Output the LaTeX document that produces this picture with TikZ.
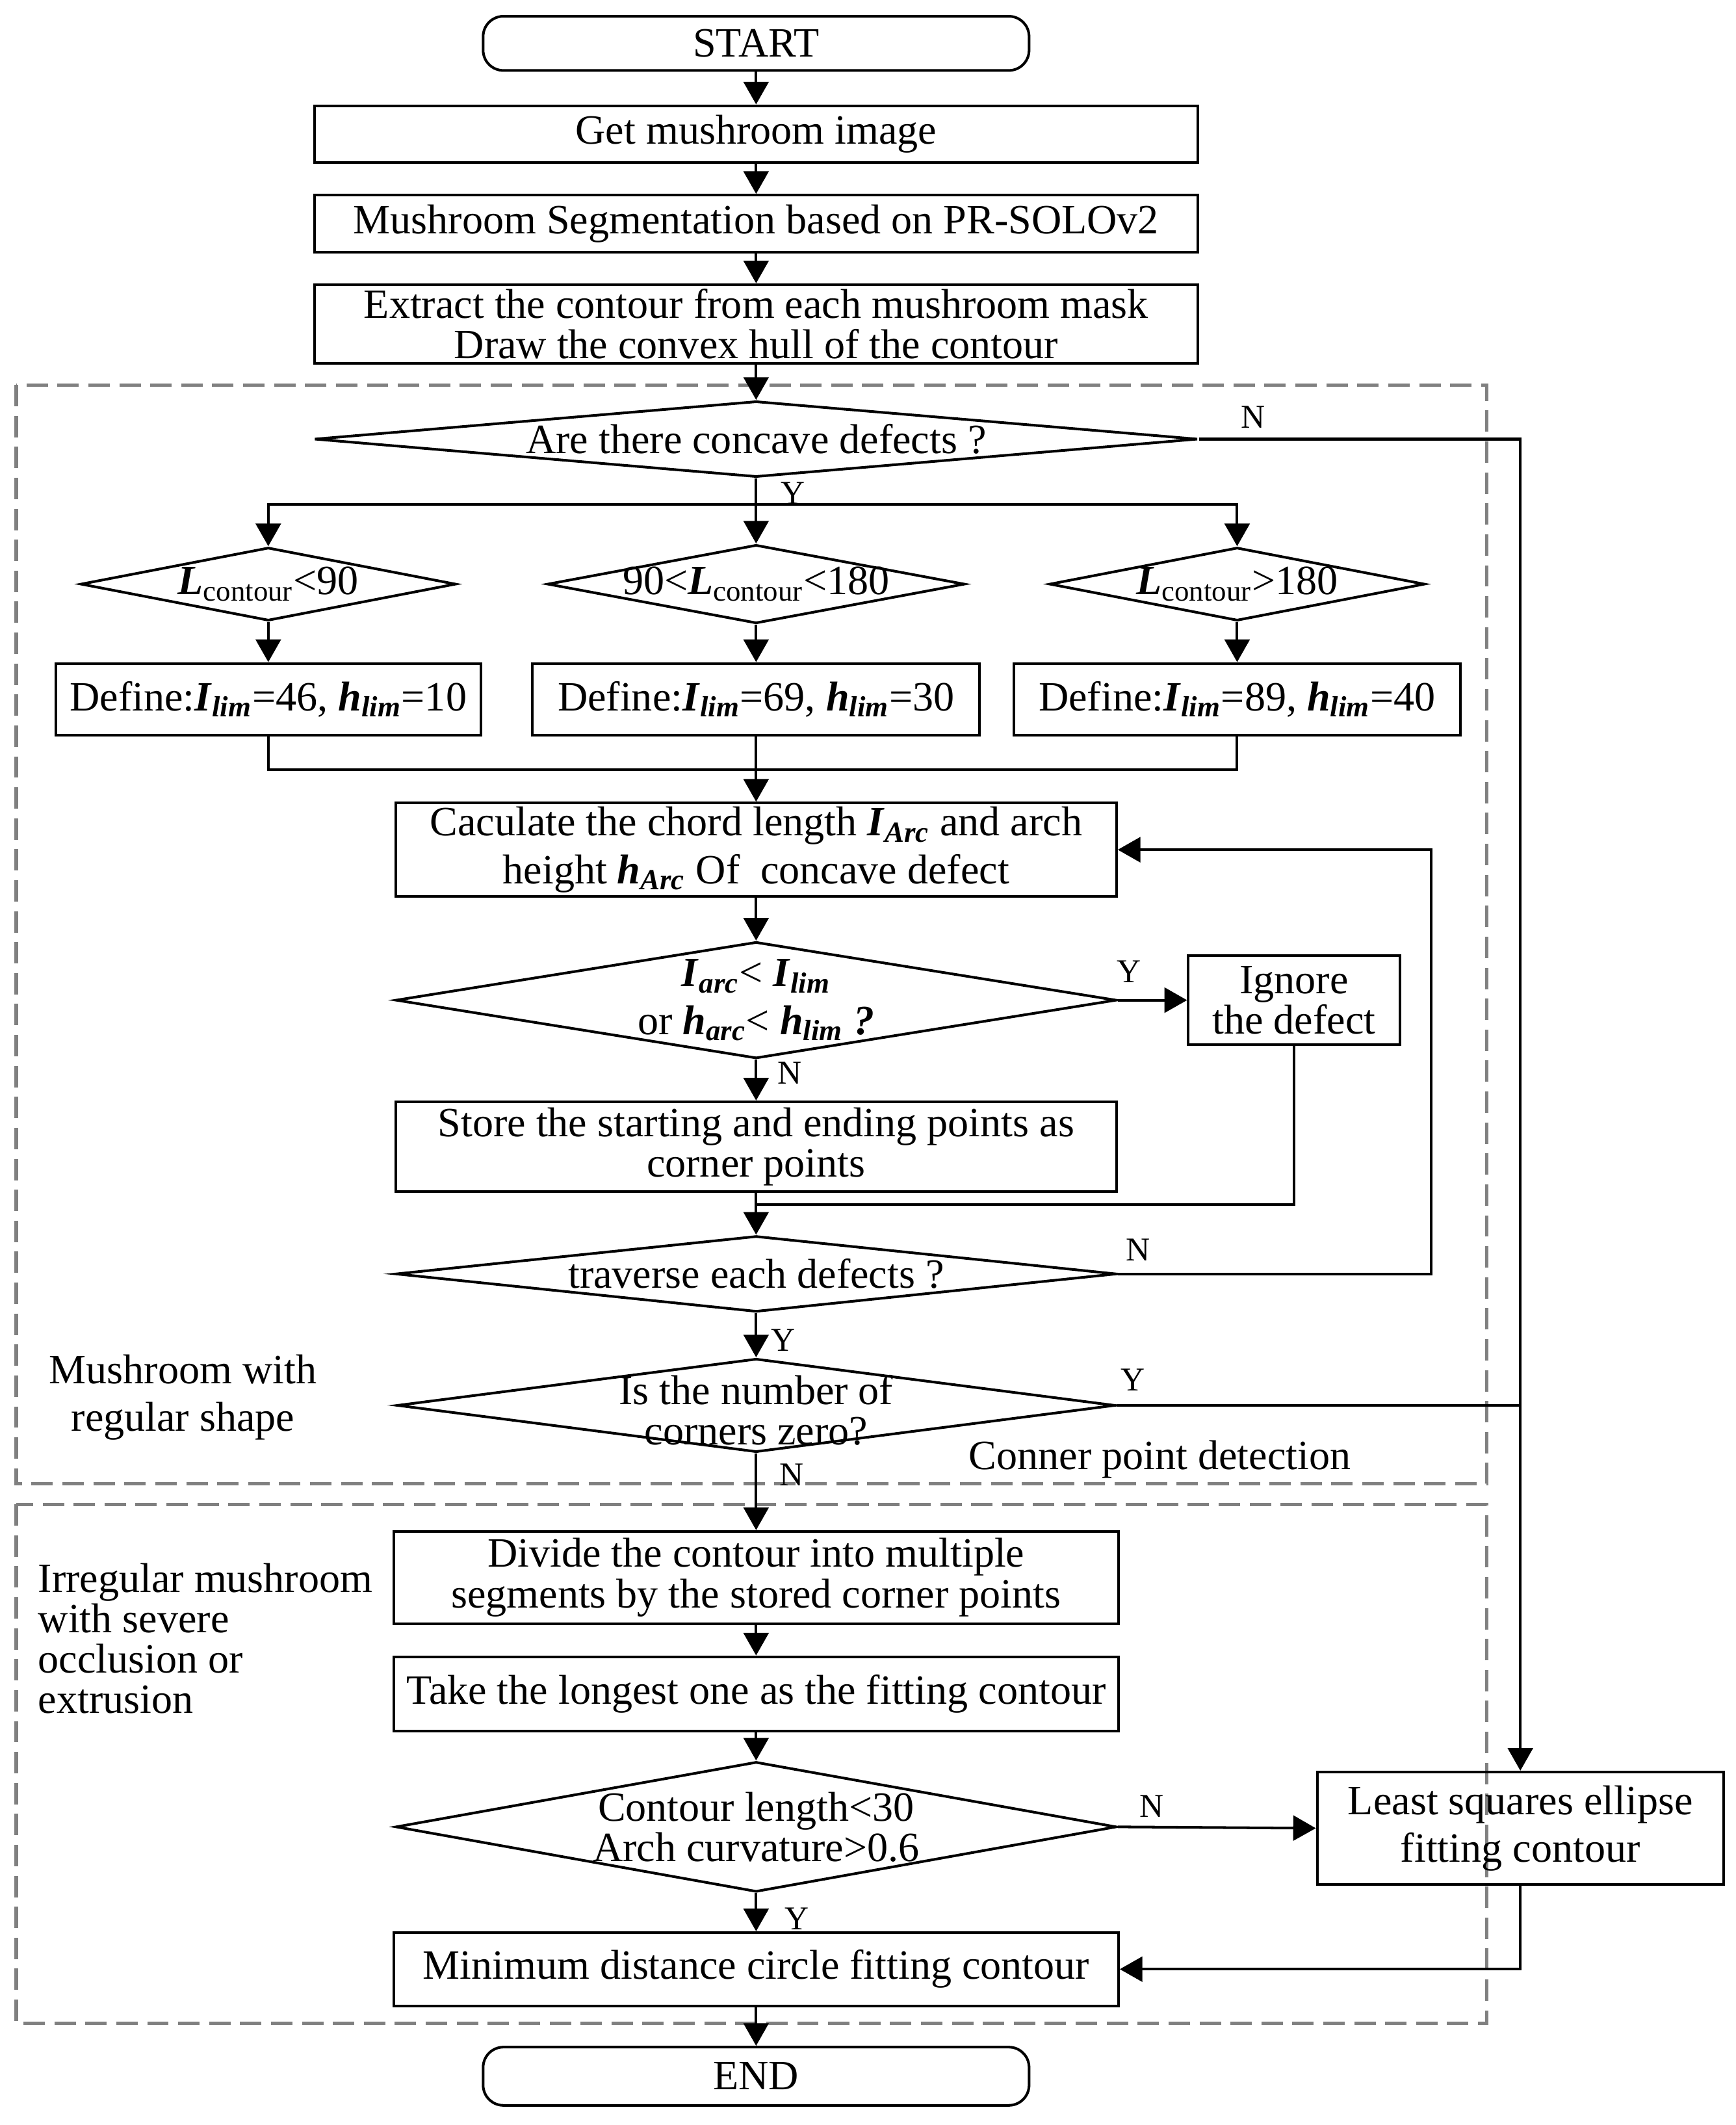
\documentclass[tikz,border=0pt]{standalone}
\usepackage{fontspec}
\setmainfont{Liberation Serif}
\usepackage{tikz}
\usetikzlibrary{shapes.geometric,arrows.meta}
\newcommand{\bi}[1]{\textbf{\textit{#1}}}
\newcommand{\sbi}[1]{\textsubscript{\textbf{\textit{#1}}}}

\begin{document}
\begin{tikzpicture}[x=0.02cm, y=-0.02cm,
    font=\fontsize{17.5}{17}\selectfont,
    box/.style={draw, line width=1.1pt, rectangle, align=center, inner sep=0pt},
    term/.style={box, rounded corners=0.3cm},
    decision/.style={draw, line width=1.1pt, diamond, inner sep=0pt},
    conn/.style={line width=1.1pt},
    arr/.style={conn, -{Triangle[length=9.5pt, width=10.5pt]}},
    region/.style={draw=black!50, line width=1.4pt, dash pattern=on 9pt off 4pt},
    yn/.style={font=\fontsize{14}{14}\selectfont}]
    \useasboundingbox (0,0) rectangle (1281,1568);
    % the two stages
    \draw[region] (12,284) rectangle (1097,1095);
    \draw[region] (12,1110) rectangle (1097,1493);
    \node (regular) at (135,1031) [align=center] {Mushroom with\\[3pt]regular shape};
    \node (corner) at (856,1077) {Conner point detection};
    \node (irregular) at (22,1209) [anchor=west, align=left] {Irregular mushroom\\with severe\\occlusion or\\extrusion};

    \node[term, minimum width=8.06cm, minimum height=0.8cm] (start) at (558,32) {START};
    \node[box, minimum width=13.04cm, minimum height=0.84cm] (get) at (558,99) {Get mushroom image};
    \node[box, minimum width=13.04cm, minimum height=0.84cm] (seg) at (558,165) {Mushroom Segmentation based on PR-SOLOv2};
    \node[box, minimum width=13.04cm, minimum height=1.16cm] (hull) at (558,239) {Extract the contour from each mushroom mask\\Draw the convex hull of the contour};
    \node[decision, minimum width=13.04cm, minimum height=1.12cm,
        label=center:{Are there concave defects ?}] (concave) at (558,324) {};

    \node[decision, minimum width=5.54cm, minimum height=1.08cm,
        label=center:{\bi{L}\textsubscript{contour}<90}] (lenA) at (198,431) {};
    \node[decision, minimum width=6.16cm, minimum height=1.16cm,
        label=center:{90<\bi{L}\textsubscript{contour}<180}] (lenB) at (558,431) {};
    \node[decision, minimum width=5.54cm, minimum height=1.08cm,
        label=center:{\bi{L}\textsubscript{contour}>180}] (lenC) at (913,431) {};
    \node[box, minimum width=6.28cm, minimum height=1.06cm] (defA) at (198,516) {Define:\bi{I}\sbi{lim}=46, \bi{h}\sbi{lim}=10};
    \node[box, minimum width=6.6cm, minimum height=1.06cm] (defB) at (558,516) {Define:\bi{I}\sbi{lim}=69, \bi{h}\sbi{lim}=30};
    \node[box, minimum width=6.6cm, minimum height=1.06cm] (defC) at (913,516) {Define:\bi{I}\sbi{lim}=89, \bi{h}\sbi{lim}=40};

    \node[box, minimum width=10.64cm, minimum height=1.38cm] (chord) at (558,627) {Caculate the chord length \bi{I}\sbi{Arc} and arch\\[3pt]height \bi{h}\sbi{Arc} Of\ \ concave defect};
    \node[decision, minimum width=10.64cm, minimum height=1.72cm,
        label={[align=center]center:{\bi{I}\sbi{arc}< \bi{I}\sbi{lim}\\[3pt]or \bi{h}\sbi{arc}< \bi{h}\sbi{lim} \bi{?}}}] (small) at (558,738) {};
    \node[box, minimum width=3.12cm, minimum height=1.32cm] (ignore) at (955,738) {Ignore\\the defect};
    \node[box, minimum width=10.64cm, minimum height=1.32cm] (store) at (558,846) {Store the starting and ending points as\\corner points};
    \node[decision, minimum width=10.64cm, minimum height=1.12cm,
        label=center:{traverse each defects ?}] (each) at (558,940) {};
    \node[decision, minimum width=10.6cm, minimum height=1.38cm,
        label={[align=center, yshift=-2pt]center:{Is the number of\\corners zero?}}] (zero) at (558,1037) {};

    \node[box, minimum width=10.7cm, minimum height=1.36cm] (divide) at (558,1164) {Divide the contour into multiple\\segments by the stored corner points};
    \node[box, minimum width=10.7cm, minimum height=1.1cm] (longest) at (558,1250) {Take the longest one as the fitting contour};
    \node[decision, minimum width=10.64cm, minimum height=1.92cm,
        label={[align=center]center:{Contour length<30\\Arch curvature>0.6}}] (curv) at (558,1348) {};
    \node[box, minimum width=6cm, minimum height=1.66cm] (ellfit) at (1122,1349) {Least squares ellipse\\[3pt]fitting contour};
    \node[box, minimum width=10.7cm, minimum height=1.08cm] (circfit) at (558,1453) {Minimum distance circle fitting contour};
    \node[term, minimum width=8.06cm, minimum height=0.86cm] (end) at (558,1532) {END};

    \coordinate (split) at (558,372);
    \coordinate (merge) at (558,568);
    \coordinate (back) at (558,889);
    \coordinate (loopR) at (1056,627);

    \draw[arr] (start) -- (get);
    \draw[arr] (get) -- (seg);
    \draw[arr] (seg) -- (hull);
    \draw[arr] (hull) -- (concave);
    \draw[arr] (concave.east) -| (ellfit.north);
    \draw[conn] (concave.south) -- (split);
    \draw[arr] (split) -| (lenA.north);
    \draw[arr] (split) -- (lenB.north);
    \draw[arr] (split) -| (lenC.north);
    \draw[arr] (lenA) -- (defA);
    \draw[arr] (lenB) -- (defB);
    \draw[arr] (lenC) -- (defC);
    \draw[conn] (defA.south) |- (merge) -| (defC.south);
    \draw[arr] (defB.south) -- (chord.north);
    \draw[arr] (chord) -- (small);
    \draw[arr] (small.east) -- (ignore.west);
    \draw[arr] (small.south) -- (store.north);
    \draw[conn] (ignore.south) |- (back);
    \draw[arr] (store) -- (each);
    \draw[arr] (each.east) -| (loopR) -- (chord.east);
    \draw[arr] (each.south) -- (zero.north);
    \draw[conn] (zero.east) -- (zero.east -| ellfit.north);
    \draw[arr] (zero.south) -- (divide.north);
    \draw[arr] (divide) -- (longest);
    \draw[arr] (longest) -- (curv);
    \draw[arr] (curv.east) -- (ellfit.west);
    \draw[arr] (curv.south) -- (circfit.north);
    \draw[arr] (ellfit.south) |- (circfit.east);
    \draw[arr] (circfit) -- (end);

    \foreach \t/\x/\y/\n in {N/925/308/a, Y/585/364/b, Y/833/717/c, N/583/792/d, N/840/922/e,
        Y/578/989/f, Y/836/1018/g, N/584/1088/h, N/850/1333/i, Y/588/1416/j}
        \node[yn] (yn\n) at (\x,\y) {\t};
\end{tikzpicture}
\end{document}
